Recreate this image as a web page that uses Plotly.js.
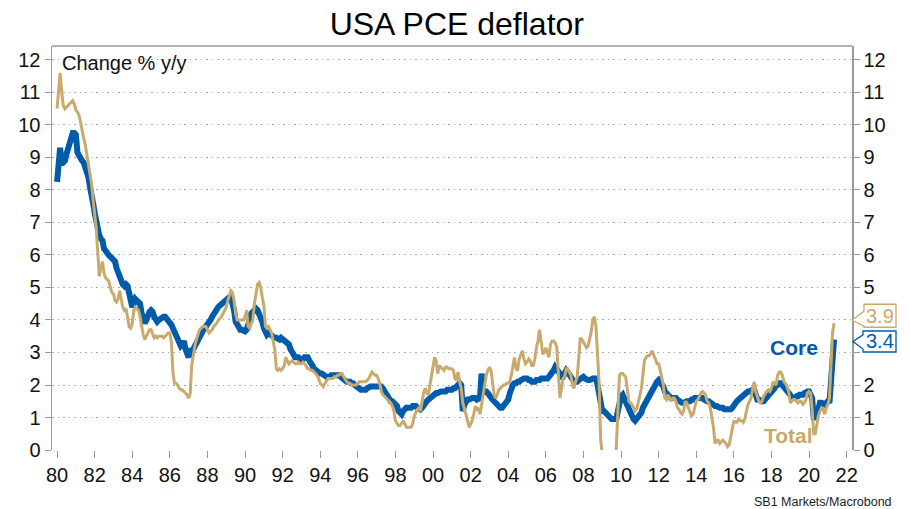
<!DOCTYPE html>
<html>
<head>
<meta charset="utf-8">
<script src="https://cdn.plot.ly/plotly-3.0.1.min.js"></script>
<style>html,body{margin:0;padding:0;background:#fff;}#chart{width:910px;height:509px;}</style>
</head>
<body>
<div id="chart"></div>
<script>
// Monthly y/y % change, Jan 1980 .. May 2021
const startYear = 1980;
const coreValues = [
8.25,9.3,9.3,8.8,8.85,8.9,9.1,9.3,9.5,9.7,9.75,9.75,
9.7,9.15,9.05,9.0,8.9,8.85,8.7,8.6,8.4,8.1,7.9,7.6,
7.3,7.0,6.7,6.6,6.5,6.45,6.2,6.1,6.05,6.0,5.95,5.9,
5.85,5.8,5.6,5.45,5.3,5.1,5.1,5.05,5.1,5.05,4.8,4.5,
4.4,4.5,4.65,4.6,4.55,4.5,4.2,4.0,3.9,4.0,4.2,4.25,
4.3,4.25,4.1,3.95,3.95,4.0,4.05,4.05,4.1,4.1,4.05,4.0,
3.95,3.85,3.75,3.65,3.6,3.5,3.4,3.2,3.25,3.35,3.1,2.9,
2.85,3.05,3.05,3.1,3.2,3.25,3.35,3.5,3.6,3.7,3.75,3.8,
3.85,3.9,4.0,4.1,4.2,4.3,4.35,4.4,4.45,4.5,4.5,4.6,
4.6,4.65,4.7,4.7,4.55,4.3,3.95,3.85,3.8,3.7,3.7,3.65,
3.65,3.7,3.8,4.0,4.2,4.25,4.3,4.35,4.3,4.2,4.15,3.95,
3.75,3.6,3.55,3.6,3.55,3.5,3.45,3.45,3.45,3.4,3.4,3.45,
3.4,3.35,3.35,3.3,3.25,3.1,3.0,2.95,2.85,2.85,2.85,2.8,
2.8,2.8,2.85,2.85,2.85,2.75,2.7,2.6,2.5,2.45,2.4,2.35,
2.35,2.35,2.3,2.3,2.25,2.25,2.25,2.3,2.3,2.3,2.3,2.3,
2.3,2.25,2.2,2.2,2.15,2.1,2.1,2.1,2.05,2.05,2.0,1.95,
1.9,1.9,1.85,1.85,1.85,1.85,1.9,1.95,1.95,1.95,1.95,1.95,
1.95,1.95,1.95,1.95,1.9,1.8,1.7,1.65,1.6,1.5,1.5,1.45,
1.4,1.35,1.2,1.15,1.1,1.2,1.3,1.3,1.3,1.3,1.3,1.35,
1.35,1.35,1.3,1.25,1.25,1.3,1.4,1.45,1.5,1.55,1.6,1.65,
1.7,1.7,1.75,1.75,1.8,1.8,1.8,1.8,1.8,1.85,1.85,1.85,
1.85,1.9,1.9,1.95,2.0,2.05,2.0,1.2,1.4,1.5,1.55,1.55,
1.6,1.6,1.6,1.6,1.55,1.6,1.6,2.35,1.75,1.8,1.8,1.75,
1.65,1.6,1.55,1.5,1.45,1.4,1.3,1.3,1.3,1.35,1.4,1.45,
1.55,1.75,1.9,2.0,2.05,2.05,2.1,2.1,2.15,2.2,2.2,2.2,
2.2,2.15,2.15,2.1,2.1,2.1,2.15,2.15,2.15,2.2,2.2,2.2,
2.2,2.2,2.25,2.3,2.4,2.45,2.55,2.5,2.4,2.35,2.25,2.25,
2.35,2.45,2.4,2.3,2.2,2.15,2.1,2.1,2.1,2.15,2.2,2.25,
2.25,2.2,2.15,2.15,2.15,2.2,2.2,2.2,2.2,2.0,1.7,1.4,
1.2,1.2,1.15,1.1,1.05,1.0,0.95,0.95,0.95,0.95,1.2,1.6,
1.65,1.7,1.6,1.5,1.35,1.2,1.1,1.0,0.95,0.9,0.95,1.05,
1.05,1.15,1.3,1.4,1.5,1.6,1.7,1.75,1.85,1.9,2.0,2.1,
2.15,2.1,2.05,1.95,1.8,1.75,1.65,1.6,1.6,1.6,1.6,1.6,
1.55,1.5,1.5,1.45,1.45,1.5,1.5,1.5,1.5,1.55,1.55,1.6,
1.6,1.6,1.6,1.6,1.6,1.55,1.5,1.5,1.5,1.45,1.45,1.4,
1.35,1.35,1.3,1.3,1.3,1.3,1.25,1.25,1.25,1.25,1.25,1.3,
1.4,1.45,1.5,1.55,1.6,1.6,1.65,1.7,1.75,1.8,1.8,1.85,
1.85,1.85,1.7,1.55,1.55,1.5,1.5,1.5,1.55,1.6,1.65,1.75,
1.8,1.85,1.9,2.0,2.0,2.05,2.05,2.0,1.95,1.9,1.85,1.8,
1.7,1.6,1.6,1.6,1.65,1.65,1.7,1.7,1.7,1.75,1.8,1.8,
1.8,1.7,1.6,1.0,1.0,1.1,1.35,1.45,1.45,1.4,1.4,1.45,
1.5,1.45,2.0,3.1,3.4
];
const totalValues = [
10.5,11.2,11.6,11.0,10.6,10.5,10.55,10.6,10.65,10.7,10.75,10.65,
10.45,10.4,10.3,10.1,9.8,9.6,9.4,9.1,8.75,8.5,8.2,7.7,
7.3,6.8,6.1,5.35,5.6,5.8,5.45,5.3,5.25,5.2,5.0,4.85,
4.8,4.6,4.55,4.65,4.9,4.6,4.4,4.3,4.35,4.1,3.8,3.75,
3.9,4.3,4.4,4.35,4.3,4.1,3.8,3.55,3.4,3.5,3.6,3.7,
3.7,3.55,3.45,3.5,3.45,3.5,3.5,3.5,3.45,3.5,3.55,3.6,
3.6,3.3,2.4,2.05,2.05,2.0,1.9,1.85,1.85,1.8,1.75,1.7,
1.6,1.75,2.6,3.0,3.2,3.4,3.55,3.7,3.75,3.8,3.8,3.8,
3.7,3.6,3.65,3.7,3.8,3.85,3.9,4.0,4.05,4.1,4.2,4.3,
4.4,4.6,4.75,4.9,4.85,4.6,4.2,4.0,4.0,4.0,4.0,4.0,
4.1,4.3,3.8,3.75,3.9,4.0,4.5,4.8,5.1,5.15,5.0,4.7,
4.45,3.8,3.75,3.8,3.7,3.6,3.35,3.1,2.5,2.45,2.5,2.45,
2.5,2.6,2.85,2.75,2.65,2.7,2.75,2.7,2.65,2.65,2.7,2.65,
2.65,2.7,2.65,2.6,2.5,2.5,2.45,2.45,2.4,2.35,2.3,2.2,
2.05,2.0,1.95,2.05,2.15,2.2,2.2,2.2,2.2,2.25,2.25,2.3,
2.3,2.35,2.35,2.25,2.15,2.1,2.05,2.05,2.0,2.0,2.0,2.0,
2.05,2.1,2.1,2.1,2.1,2.1,2.15,2.2,2.3,2.4,2.35,2.3,
2.3,2.2,2.05,1.8,1.7,1.65,1.6,1.55,1.5,1.45,1.35,1.2,
0.9,0.8,0.75,0.75,0.85,0.9,0.8,0.7,0.7,0.7,0.7,0.8,
1.05,1.15,1.25,1.3,1.2,1.45,1.75,1.9,1.75,1.7,2.0,2.35,
2.6,2.85,2.75,2.35,2.6,2.55,2.5,2.45,2.55,2.55,2.5,2.5,
2.5,2.45,2.2,2.15,2.4,2.1,1.9,1.45,1.3,1.1,0.9,0.7,
0.8,0.9,1.1,1.35,1.25,1.3,1.1,1.4,1.8,2.0,2.3,2.45,
2.55,2.45,2.0,1.7,1.6,1.7,1.85,1.9,1.95,2.0,2.0,2.05,
2.05,2.1,2.3,2.65,2.85,2.5,2.45,2.8,2.95,3.05,2.8,2.65,
2.7,2.8,2.75,2.6,2.6,2.8,3.15,3.35,3.7,3.3,2.95,3.0,
3.15,3.0,2.85,3.25,3.35,3.35,3.3,3.15,2.4,1.6,1.9,2.2,
2.25,2.5,2.5,2.4,2.3,2.0,1.9,2.1,2.25,2.8,3.45,3.4,
3.3,3.25,3.15,3.2,3.4,3.65,4.0,4.1,3.8,3.0,2.05,0.3,
-0.3,-0.6,-0.7,-0.6,-0.8,-0.9,-1.4,-1.2,-1.0,0.1,1.3,2.3,
2.35,2.35,2.3,2.25,1.9,1.5,1.45,1.4,1.3,1.2,1.25,1.5,
1.7,1.9,2.3,2.75,2.85,2.9,2.9,3.0,3.05,2.9,2.8,2.65,
2.65,2.45,2.25,2.0,1.6,1.55,1.7,1.6,1.5,1.6,1.6,1.5,
1.3,1.25,1.15,1.1,1.2,1.5,1.45,1.3,1.2,1.05,1.1,1.3,
1.5,1.55,1.65,1.75,1.8,1.75,1.7,1.5,1.45,1.3,1.05,0.7,
0.2,0.3,0.3,0.2,0.25,0.3,0.25,0.2,0.1,0.15,0.4,0.7,
0.9,0.85,0.85,0.95,0.9,0.9,0.85,0.95,1.2,1.4,1.5,1.6,
1.9,2.1,1.8,1.65,1.5,1.45,1.5,1.65,1.75,1.8,1.85,1.8,
1.9,2.1,2.05,2.0,2.3,2.4,2.4,2.3,2.1,2.05,1.95,1.8,
1.45,1.5,1.55,1.55,1.5,1.45,1.5,1.5,1.4,1.45,1.55,1.75,
1.8,1.75,1.25,0.5,0.5,0.85,1.05,1.2,1.3,1.25,1.1,1.3,
1.4,1.6,2.5,3.6,3.9
];
const seriesNames = ['Core', 'Total'];
const yTickValues = [0,1,2,3,4,5,6,7,8,9,10,11,12];
// right-axis labels hidden where the end-value callouts sit
const yTickLabelsRight = ['0','1','2','','','5','6','7','8','9','10','11','12'];

const dates = coreValues.map((_, i) => {
  const y = startYear + Math.floor(i / 12);
  const m = (i % 12) + 1;
  return y + '-' + (m < 10 ? '0' + m : m) + '-01';
});

const BLUE = '#005BAA';
const TAN = '#C9A96C';
const GRID = '#a8a8a8';
const AXIS = '#9a9a9a';
const FONT = 'Liberation Sans, Arial, sans-serif';

const M = {l: 52, r: 58, t: 46, b: 59};
const W = 910, H = 509;
const PW = W - M.l - M.r, PH = H - M.t - M.b;
const yMax = 12.43;

function px(x) { return (x - M.l) / PW; }
function py(y) { return (H - M.b - y) / PH; }
function valToPy(v) { return H - M.b - v / yMax * PH; }
function pathFrom(pts) {
  return 'M' + pts.map(p => px(p[0]).toFixed(5) + ',' + py(p[1]).toFixed(5)).join(' L') + ' Z';
}

const lastTotal = totalValues[totalValues.length - 1];
const lastCore = coreValues[coreValues.length - 1];
const tipX = 852;
const tanTip = valToPy(lastTotal) - 3;   // label nudged up
const blueTip = valToPy(lastCore) + 2;   // label nudged down

const tanPoly = pathFrom([[896, tanTip - 16], [864, tanTip - 16], [864, tanTip - 9], [tipX, tanTip],
  [864, tanTip + 6], [864, tanTip + 7], [896, tanTip + 7]]);
const bluePoly = pathFrom([[896, blueTip - 10.5], [863, blueTip - 10.5], [863, blueTip - 6.7], [tipX + 1, blueTip],
  [863, blueTip + 7.6], [863, blueTip + 10.5], [896, blueTip + 10.5]]);

const traces = [
  {x: dates, y: coreValues, name: seriesNames[0], type: 'scatter', mode: 'lines',
   line: {color: BLUE, width: 6}, hoverinfo: 'skip'},
  {x: dates, y: totalValues, name: seriesNames[1], type: 'scatter', mode: 'lines',
   line: {color: TAN, width: 3}, hoverinfo: 'skip'},
  {x: dates, y: coreValues, yaxis: 'y2', type: 'scatter', mode: 'lines',
   line: {color: 'rgba(0,0,0,0)', width: 0}, hoverinfo: 'skip', showlegend: false}
];

const tickFont = {family: FONT, size: 20, color: '#111'};

const layout = {
  width: W, height: H, autosize: false,
  margin: M,
  paper_bgcolor: '#fff', plot_bgcolor: '#fff',
  showlegend: false,
  title: {text: 'USA PCE deflator', font: {family: FONT, size: 32, color: '#000'},
          x: 0.502, xanchor: 'center', y: 1 - 24 / H, yanchor: 'middle'},
  xaxis: {
    type: 'date', range: ['1979-09-25', '2022-04-15'],
    tick0: '1980-01-01', dtick: 'M24', tickformat: '%y',
    ticks: 'outside', ticklen: 7, tickwidth: 1, tickcolor: AXIS,
    showgrid: false, zeroline: false, showline: false,
    tickfont: tickFont, fixedrange: true
  },
  yaxis: {
    range: [0, yMax], tickvals: yTickValues, ticktext: yTickValues.map(String),
    ticks: 'outside', ticklen: 6, tickwidth: 1, tickcolor: AXIS,
    showline: true, linecolor: AXIS, linewidth: 1.5,
    showgrid: true, gridcolor: GRID, gridwidth: 1, griddash: '1.5px,4px',
    zeroline: false, tickfont: tickFont, fixedrange: true
  },
  yaxis2: {
    range: [0, yMax], tickvals: yTickValues, ticktext: yTickLabelsRight,
    overlaying: 'y', side: 'right',
    ticks: 'outside', ticklen: 6, tickwidth: 1, tickcolor: AXIS,
    showline: true, linecolor: AXIS, linewidth: 1.5,
    showgrid: false, zeroline: false, tickfont: tickFont, fixedrange: true
  },
  shapes: [
    {type: 'line', xref: 'paper', yref: 'paper', x0: 0, x1: 1, y0: 1, y1: 1,
     line: {color: AXIS, width: 1.5}},
    {type: 'path', xref: 'paper', yref: 'paper', path: tanPoly,
     fillcolor: '#fff', line: {color: TAN, width: 1.3}, layer: 'above'},
    {type: 'path', xref: 'paper', yref: 'paper', path: bluePoly,
     fillcolor: '#fff', line: {color: BLUE, width: 1.3}, layer: 'above'}
  ],
  annotations: [
    {text: 'Change % y/y', xref: 'paper', yref: 'paper', x: px(60), y: py(63),
     xanchor: 'left', yanchor: 'middle', showarrow: false,
     font: {family: FONT, size: 20, color: '#111'}},
    {text: '<b>' + seriesNames[0] + '</b>', xref: 'paper', yref: 'paper', x: px(794), y: py(347),
     xanchor: 'center', yanchor: 'middle', showarrow: false,
     font: {family: FONT, size: 21, color: BLUE}},
    {text: '<b>' + seriesNames[1] + '</b>', xref: 'paper', yref: 'paper', x: px(788), y: py(435),
     xanchor: 'center', yanchor: 'middle', showarrow: false,
     font: {family: FONT, size: 21, color: TAN}},
    {text: lastTotal.toFixed(1), xref: 'paper', yref: 'paper', x: px(880), y: py(tanTip - 4.5),
     xanchor: 'center', yanchor: 'middle', showarrow: false,
     font: {family: FONT, size: 20, color: TAN}},
    {text: lastCore.toFixed(1), xref: 'paper', yref: 'paper', x: px(879.5), y: py(blueTip),
     xanchor: 'center', yanchor: 'middle', showarrow: false,
     font: {family: FONT, size: 20, color: BLUE}},
    {text: 'SB1 Markets/Macrobond', xref: 'paper', yref: 'paper', x: px(894), y: py(502),
     xanchor: 'right', yanchor: 'middle', showarrow: false,
     font: {family: FONT, size: 12.5, color: '#222'}}
  ]
};

Plotly.newPlot('chart', traces, layout, {staticPlot: true, displayModeBar: false});
</script>
</body>
</html>
